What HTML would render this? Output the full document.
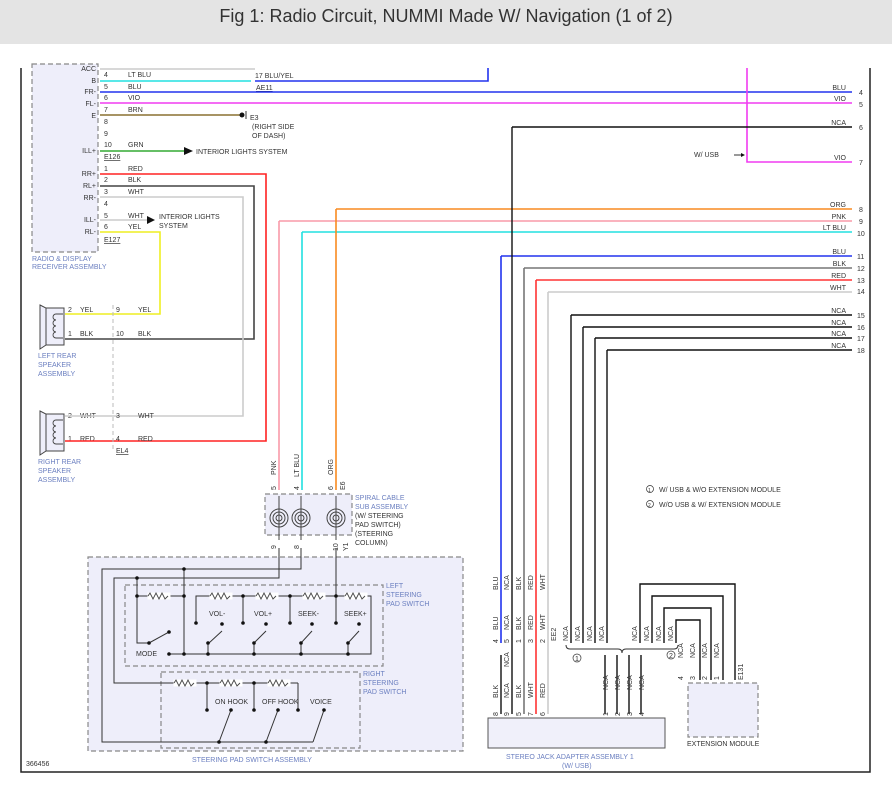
<!DOCTYPE html>
<html><head><meta charset="utf-8"><style>
html,body{margin:0;padding:0;background:#fff;}
svg{display:block;font-family:"Liberation Sans",sans-serif;}
.t{font-size:7px;fill:#333;}
.c{font-size:7px;fill:#6b7fc0;}
.w{fill:none;stroke-width:1.6;}
.k{fill:none;stroke:#111;stroke-width:1.4;}
.d{fill:#eeeefa;stroke:#888;stroke-width:1.2;stroke-dasharray:5,3;}
.s{fill:none;stroke:#333;stroke-width:1;}
</style></head><body>
<svg width="892" height="791" viewBox="0 0 892 791">
<rect x="0" y="0" width="892" height="44" fill="#e4e4e4"/>
<text x="446" y="22" font-size="18" fill="#333" text-anchor="middle">Fig 1: Radio Circuit, NUMMI Made W/ Navigation (1 of 2)</text>
<!-- frame -->
<path d="M21 68 V772 H870 V68" fill="none" stroke="#222" stroke-width="1.5"/>

<!-- radio receiver box -->
<rect x="32" y="64" width="66" height="188" class="d"/>
<text x="32" y="261" class="c">RADIO &amp; DISPLAY</text>
<text x="32" y="269" class="c">RECEIVER ASSEMBLY</text>
<g class="t" text-anchor="end">
<text x="96" y="71">ACC</text><text x="96" y="83">B</text><text x="96" y="94">FR-</text><text x="96" y="106">FL-</text><text x="96" y="118">E</text><text x="96" y="153">ILL+</text><text x="96" y="176">RR+</text><text x="96" y="188">RL+</text><text x="96" y="200">RR-</text><text x="96" y="222">ILL-</text><text x="96" y="234">RL-</text>
</g>
<g class="t">
<text x="104" y="77">4</text><text x="104" y="89">5</text><text x="104" y="100">6</text><text x="104" y="112">7</text><text x="104" y="124">8</text><text x="104" y="136">9</text><text x="104" y="147">10</text>
<text x="104" y="171">1</text><text x="104" y="182">2</text><text x="104" y="194">3</text><text x="104" y="206">4</text><text x="104" y="218">5</text><text x="104" y="229">6</text>
<text x="128" y="77">LT BLU</text><text x="128" y="89">BLU</text><text x="128" y="100">VIO</text><text x="128" y="112">BRN</text><text x="128" y="147">GRN</text>
<text x="128" y="171">RED</text><text x="128" y="182">BLK</text><text x="128" y="194">WHT</text><text x="128" y="218">WHT</text><text x="128" y="229">YEL</text>
<text x="104" y="159" text-decoration="underline">E126</text><text x="104" y="242" text-decoration="underline">E127</text>
<text x="255" y="78">17  BLU/YEL</text><text x="256" y="90" text-decoration="underline">AE11</text>
<text x="250" y="120">E3</text><text x="252" y="129">(RIGHT SIDE</text><text x="252" y="138">OF DASH)</text>
<text x="196" y="154">INTERIOR LIGHTS SYSTEM</text>
<text x="159" y="219">INTERIOR LIGHTS</text><text x="159" y="228">SYSTEM</text>
</g>
<!-- top wires -->
<path d="M100 69 H255" class="w" stroke="#ccc"/>
<path d="M100 81 H251" class="w" stroke="#22e0e0"/>
<path d="M255 81 H488 V68" class="w" stroke="#2233ee"/>
<path d="M100 92 H852" class="w" stroke="#2233ee"/>
<path d="M100 103 H852" class="w" stroke="#f03cf0"/>
<path d="M100 115 H240" class="w" stroke="#8a7030" stroke-width="2"/>
<circle cx="242" cy="115" r="2.5" fill="#111"/><path d="M246 111 V119" class="s"/>
<path d="M100 151 H186" class="w" stroke="#3a3" stroke-width="2"/><path d="M184 147 L193 151 L184 155Z" fill="#111"/>
<path d="M100 174 H266 V441 H100" class="w" stroke="#f22" stroke-width="2"/>
<path d="M100 186 H254 V339 H100" class="w" stroke="#444"/>
<path d="M100 197 H243 V416 H100" class="w" stroke="#ccc"/>
<path d="M100 220 H148" class="w" stroke="#ccc"/><path d="M147 216 L155 220 L147 224Z" fill="#111"/>
<path d="M100 232 H160 V314 H100" class="w" stroke="#ee2" stroke-width="2"/>
<path d="M113 305 V450" stroke="#bbb" stroke-dasharray="4,3" fill="none"/>
<!-- speakers -->
<g class="t">
<text x="68" y="312">2</text><text x="80" y="312">YEL</text><text x="116" y="312">9</text><text x="138" y="312">YEL</text>
<text x="68" y="336">1</text><text x="80" y="336">BLK</text><text x="116" y="336">10</text><text x="138" y="336">BLK</text>
<text x="68" y="418">2</text><text x="80" y="418">WHT</text><text x="116" y="418">3</text><text x="138" y="418">WHT</text>
<text x="68" y="441">1</text><text x="80" y="441">RED</text><text x="116" y="441">4</text><text x="138" y="441">RED</text>
<text x="116" y="453" text-decoration="underline">EL4</text>
</g>
<path d="M65 314 H100" class="w" stroke="#ee2" stroke-width="2"/><path d="M65 339 H100" class="w" stroke="#444"/>
<path d="M65 416 H100" class="w" stroke="#ccc"/><path d="M65 441 H100" class="w" stroke="#f22" stroke-width="2"/>
<g fill="#eeeefa" stroke="#444">
<path d="M40 305 L46 308 V345 L40 349Z"/><rect x="46" y="308" width="18" height="37"/>
<path d="M40 411 L46 414 V451 L40 455Z"/><rect x="46" y="414" width="18" height="37"/>
</g>
<g fill="none" stroke="#444" stroke-width="0.9">
<path d="M63 314 H56 a3 3 0 0 0 0 6 a3 3 0 0 0 0 6 a3 3 0 0 0 0 6 a3 3 0 0 0 0 6 H63"/>
<path d="M63 420 H56 a3 3 0 0 0 0 6 a3 3 0 0 0 0 6 a3 3 0 0 0 0 6 a3 3 0 0 0 0 6 H63"/>
</g>
<text x="38" y="358" class="c">LEFT REAR</text><text x="38" y="367" class="c">SPEAKER</text><text x="38" y="376" class="c">ASSEMBLY</text>
<text x="38" y="464" class="c">RIGHT REAR</text><text x="38" y="473" class="c">SPEAKER</text><text x="38" y="482" class="c">ASSEMBLY</text>

<!-- spiral cable -->
<path d="M279 221 H852" class="w" stroke="#f89aa8"/>
<path d="M279 221 V490" class="w" stroke="#f89aa8"/>
<path d="M302 232 H852" class="w" stroke="#22e0e0"/><path d="M302 232 V490" class="w" stroke="#22e0e0"/>
<path d="M336 209 H852" class="w" stroke="#f88a20"/><path d="M336 209 V490" class="w" stroke="#f88a20"/>
<g class="t" transform="rotate(-90)">
<text x="-475" y="276">PNK</text><text x="-477" y="299">LT BLU</text><text x="-475" y="333">ORG</text>
<text x="-490" y="276">5</text><text x="-490" y="299">4</text><text x="-490" y="333">6</text><text x="-490" y="345">E6</text>
<text x="-512" y="291">AU2</text><text x="-512" y="313">EAU</text><text x="-512" y="348">AU1</text>
<text x="-549" y="276">9</text><text x="-549" y="299">8</text><text x="-551" y="338">10</text><text x="-551" y="348">Y1</text>
</g>
<rect x="265" y="494" width="87" height="41" class="d"/>
<g fill="none" stroke="#444"><circle cx="279" cy="518" r="9"/><circle cx="279" cy="518" r="6"/><circle cx="279" cy="518" r="3"/>
<circle cx="301" cy="518" r="9"/><circle cx="301" cy="518" r="6"/><circle cx="301" cy="518" r="3"/>
<circle cx="336" cy="518" r="9"/><circle cx="336" cy="518" r="6"/><circle cx="336" cy="518" r="3"/>
<path d="M279 496 V540 M301 496 V540 M336 496 V540"/></g>
<g class="c"><text x="355" y="500">SPIRAL CABLE</text><text x="355" y="509">SUB ASSEMBLY</text><text x="355" y="518" fill="#333">(W/ STEERING</text><text x="355" y="527" fill="#333">PAD SWITCH)</text><text x="355" y="536" fill="#333">(STEERING</text><text x="355" y="545" fill="#333">COLUMN)</text></g>

<!-- steering pad switch -->
<rect x="88" y="557" width="375" height="194" class="d"/>
<rect x="125" y="585" width="258" height="81" class="d"/>
<rect x="161" y="672" width="199" height="76" class="d"/>
<g class="s" stroke="#555">
<path d="M279 548 V578 H114 V683 H298"/>
<path d="M301 548 V569 H102 V742 H313"/>
<path d="M184 569 V654"/><path d="M137 578 V643 H149"/>
<path d="M336 548 V596"/>
<path d="M137 596 H184"/><path d="M196 623 V596 H371 V654 H169"/>
<path d="M243 596 V623 M290 596 V623 M336 596 V623"/>
<path d="M209 643 L222 631 M254 643 L266 631 M301 643 L312 631 M348 643 L359 631"/>
<path d="M149 643 L169 632"/>
<path d="M208 643 V654 M254 643 V654 M301 643 V654 M348 643 V654"/>
<path d="M207 683 V710 M254 683 V710 M298 683 V710"/>
<path d="M219 742 L231 710 M266 742 L278 710 M313 742 L324 710"/>
</g>
<g fill="#fff" stroke="#fff"><rect x="148" y="593" width="22" height="6"/><rect x="210" y="593" width="22" height="6"/><rect x="256" y="593" width="22" height="6"/><rect x="303" y="593" width="22" height="6"/><rect x="345" y="593" width="22" height="6"/>
<rect x="174" y="680" width="22" height="6"/><rect x="220" y="680" width="22" height="6"/><rect x="268" y="680" width="22" height="6"/></g>
<g fill="none" stroke="#444" stroke-width="0.9">
<path d="M148 596 l2 -3 l3 6 l3 -6 l3 6 l3 -6 l3 6 l3 -3"/><path d="M210 596 l2 -3 l3 6 l3 -6 l3 6 l3 -6 l3 6 l3 -3"/><path d="M256 596 l2 -3 l3 6 l3 -6 l3 6 l3 -6 l3 6 l3 -3"/><path d="M303 596 l2 -3 l3 6 l3 -6 l3 6 l3 -6 l3 6 l3 -3"/><path d="M345 596 l2 -3 l3 6 l3 -6 l3 6 l3 -6 l3 6 l3 -3"/>
<path d="M174 683 l2 -3 l3 6 l3 -6 l3 6 l3 -6 l3 6 l3 -3"/><path d="M220 683 l2 -3 l3 6 l3 -6 l3 6 l3 -6 l3 6 l3 -3"/><path d="M268 683 l2 -3 l3 6 l3 -6 l3 6 l3 -6 l3 6 l3 -3"/>
</g>
<g fill="#111"><circle cx="184" cy="569" r="1.8"/><circle cx="137" cy="578" r="1.8"/><circle cx="137" cy="596" r="1.8"/><circle cx="184" cy="596" r="1.8"/><circle cx="243" cy="596" r="1.8"/><circle cx="290" cy="596" r="1.8"/><circle cx="336" cy="596" r="1.8"/>
<circle cx="196" cy="623" r="1.8"/><circle cx="243" cy="623" r="1.8"/><circle cx="290" cy="623" r="1.8"/><circle cx="336" cy="623" r="1.8"/>
<circle cx="222" cy="624" r="1.8"/><circle cx="266" cy="624" r="1.8"/><circle cx="312" cy="624" r="1.8"/><circle cx="359" cy="624" r="1.8"/>
<circle cx="208" cy="643" r="1.8"/><circle cx="254" cy="643" r="1.8"/><circle cx="301" cy="643" r="1.8"/><circle cx="348" cy="643" r="1.8"/><circle cx="149" cy="643" r="1.8"/><circle cx="169" cy="632" r="1.8"/>
<circle cx="169" cy="654" r="1.8"/><circle cx="184" cy="654" r="1.8"/><circle cx="208" cy="654" r="1.8"/><circle cx="254" cy="654" r="1.8"/><circle cx="301" cy="654" r="1.8"/><circle cx="348" cy="654" r="1.8"/>
<circle cx="207" cy="683" r="1.8"/><circle cx="254" cy="683" r="1.8"/><circle cx="207" cy="710" r="1.8"/><circle cx="254" cy="710" r="1.8"/><circle cx="298" cy="710" r="1.8"/>
<circle cx="231" cy="710" r="1.8"/><circle cx="278" cy="710" r="1.8"/><circle cx="324" cy="710" r="1.8"/><circle cx="219" cy="742" r="1.8"/><circle cx="266" cy="742" r="1.8"/></g>
<g class="t"><text x="209" y="616">VOL-</text><text x="254" y="616">VOL+</text><text x="298" y="616">SEEK-</text><text x="344" y="616">SEEK+</text><text x="136" y="656">MODE</text>
<text x="215" y="704">ON HOOK</text><text x="262" y="704">OFF HOOK</text><text x="310" y="704">VOICE</text></g>
<g class="c"><text x="386" y="588">LEFT</text><text x="386" y="597">STEERING</text><text x="386" y="606">PAD SWITCH</text>
<text x="363" y="676">RIGHT</text><text x="363" y="685">STEERING</text><text x="363" y="694">PAD SWITCH</text>
<text x="192" y="762">STEERING PAD SWITCH ASSEMBLY</text></g>
<text x="26" y="766" class="t">366456</text>

<!-- right wires -->
<path d="M747 68 V162 H852" class="w" stroke="#f03cf0"/>
<path d="M734 155 H742" class="s" stroke="#111"/><path d="M741 153 L745 155 L741 157Z" fill="#111"/>
<text x="694" y="157" class="t">W/ USB</text>
<path d="M512 127 H852" class="k"/>
<path d="M501 256 H852" class="w" stroke="#2233ee"/>
<path d="M524 268 H852" class="w" stroke="#777"/>
<path d="M536 280 H852" class="w" stroke="#f33" stroke-width="2"/>
<path d="M548 292 H852" class="w" stroke="#ccc"/>
<path d="M571 315 H852 M583 327 H852 M595 338 H852 M607 350 H852" class="k"/>
<path d="M501 256 V643" class="w" stroke="#2233ee"/>
<path d="M512 127 V714" class="k"/>
<path d="M524 268 V714" class="w" stroke="#777"/>
<path d="M536 280 V714" class="w" stroke="#f33" stroke-width="2"/>
<path d="M548 292 V714" class="w" stroke="#ccc"/>
<path d="M501 655 V714" class="k"/>
<path d="M571 315 V643 M583 327 V643 M595 338 V643 M607 350 V643" class="k"/>
<g class="t" text-anchor="end">
<text x="846" y="90">BLU</text><text x="846" y="101">VIO</text><text x="846" y="125">NCA</text><text x="846" y="160">VIO</text>
<text x="846" y="207">ORG</text><text x="846" y="219">PNK</text><text x="846" y="230">LT BLU</text>
<text x="846" y="254">BLU</text><text x="846" y="266">BLK</text><text x="846" y="278">RED</text><text x="846" y="290">WHT</text>
<text x="846" y="313">NCA</text><text x="846" y="325">NCA</text><text x="846" y="336">NCA</text><text x="846" y="348">NCA</text>
</g>
<g class="t"><text x="859" y="95">4</text><text x="859" y="107">5</text><text x="859" y="130">6</text><text x="859" y="165">7</text><text x="859" y="212">8</text><text x="859" y="224">9</text><text x="857" y="236">10</text><text x="857" y="259">11</text><text x="857" y="271">12</text><text x="857" y="283">13</text><text x="857" y="294">14</text><text x="857" y="318">15</text><text x="857" y="330">16</text><text x="857" y="341">17</text><text x="857" y="353">18</text></g>
<g class="t"><circle cx="650" cy="489" r="3.5" fill="none" stroke="#333" stroke-width="0.7"/><text x="648" y="492" font-size="5">1</text><text x="659" y="492">W/ USB &amp; W/O EXTENSION MODULE</text>
<circle cx="650" cy="504" r="3.5" fill="none" stroke="#333" stroke-width="0.7"/><text x="648" y="507" font-size="5">2</text><text x="659" y="507">W/O USB &amp; W/ EXTENSION MODULE</text></g>

<!-- extension loops -->
<path d="M640 643 V584 H735 V680 M652 643 V596 H723 V680 M664 643 V608 H711 V680 M676 643 V620 H700 V680" class="k"/>
<path d="M566 645 q0 4 4 4 H618 q4 0 4 4 q0 -4 4 -4 H674 q4 0 4 -4" class="s" stroke="#777"/>
<path d="M605 655 V714 M617 655 V714 M629 655 V714 M641 655 V714" class="k"/>
<g fill="none" stroke="#333" stroke-width="0.7"><circle cx="577" cy="658" r="4"/><circle cx="671" cy="655" r="4"/></g>
<text x="575" y="661" font-size="5" class="t">1</text><text x="669" y="658" font-size="5" class="t">2</text>
<g class="t" transform="rotate(-90)">
<text x="-590" y="498">BLU</text><text x="-590" y="509">NCA</text><text x="-590" y="521">BLK</text><text x="-590" y="533">RED</text><text x="-590" y="545">WHT</text>
<text x="-630" y="498">BLU</text><text x="-630" y="509">NCA</text><text x="-630" y="521">BLK</text><text x="-630" y="533">RED</text><text x="-630" y="545">WHT</text><text x="-641" y="556">EE2</text>
<text x="-643" y="498">4</text><text x="-643" y="509">5</text><text x="-643" y="521">1</text><text x="-643" y="533">3</text><text x="-643" y="545">2</text>
<text x="-667" y="509">NCA</text>
<text x="-698" y="498">BLK</text><text x="-698" y="509">NCA</text><text x="-698" y="521">BLK</text><text x="-698" y="533">WHT</text><text x="-698" y="545">RED</text>
<text x="-716" y="498">8</text><text x="-716" y="509">9</text><text x="-716" y="521">5</text><text x="-716" y="533">7</text><text x="-716" y="545">6</text>
<text x="-641" y="568">NCA</text><text x="-641" y="580">NCA</text><text x="-641" y="592">NCA</text><text x="-641" y="604">NCA</text>
<text x="-641" y="637">NCA</text><text x="-641" y="649">NCA</text><text x="-641" y="661">NCA</text><text x="-641" y="673">NCA</text>
<text x="-690" y="608">NCA</text><text x="-690" y="620">NCA</text><text x="-690" y="632">NCA</text><text x="-690" y="644">NCA</text>
<text x="-716" y="608">1</text><text x="-716" y="620">2</text><text x="-716" y="632">3</text><text x="-716" y="644">4</text>
<text x="-658" y="683">NCA</text><text x="-658" y="695">NCA</text><text x="-658" y="707">NCA</text><text x="-658" y="719">NCA</text>
<text x="-680" y="683">4</text><text x="-680" y="695">3</text><text x="-680" y="707">2</text><text x="-680" y="719">1</text><text x="-680" y="743">E131</text>
</g>
<rect x="488" y="718" width="177" height="30" fill="#f0f0fa" stroke="#555"/>
<text x="506" y="759" class="c">STEREO JACK ADAPTER ASSEMBLY 1</text><text x="562" y="768" class="c">(W/ USB)</text>
<rect x="688" y="683" width="70" height="54" class="d"/>
<text x="687" y="746" class="t">EXTENSION MODULE</text>
</svg>
</body></html>
